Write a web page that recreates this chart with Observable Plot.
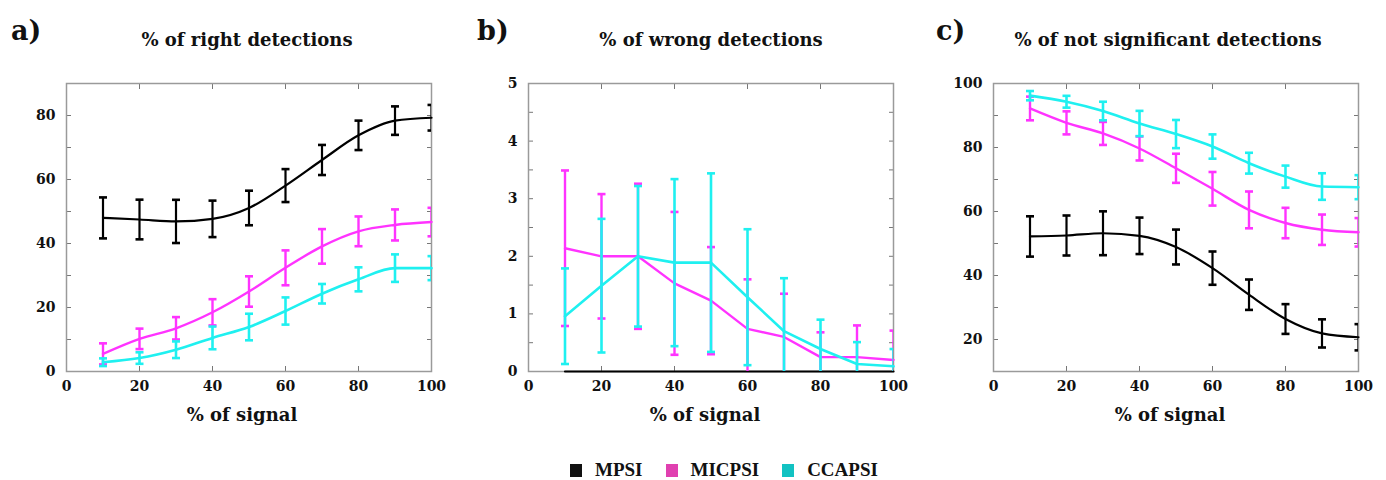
<!DOCTYPE html>
<html><head><meta charset="utf-8">
<script src="https://cdn.jsdelivr.net/npm/d3@7"></script>
<script src="https://cdn.jsdelivr.net/npm/@observablehq/plot@0.6"></script>
<style>
body{margin:0;background:#fff;width:1386px;height:480px;position:relative;overflow:hidden;font-family:"DejaVu Serif",serif;}
.abs{position:absolute;white-space:nowrap;font-weight:bold;color:#111;line-height:1;}
.c{transform:translate(-50%,-50%);}
.panel{position:absolute;top:0;}
.legend{position:absolute;top:470px;left:570px;display:flex;justify-content:flex-start;align-items:center;transform:translateY(-50%);font-family:"Liberation Serif",serif;font-weight:bold;font-size:19px;color:#111;}
.legend span.sw{display:inline-block;width:12px;height:13px;margin-right:13px;vertical-align:middle;position:relative;top:-1px;}
.legend .it{margin-right:23px;}
</style></head><body>
<script>
// ---------- data ----------
const signal = [10, 20, 30, 40, 50, 60, 70, 80, 90, 100];
const seriesNames = ["MPSI", "MICPSI", "CCAPSI"];
const lineColors = ["#000000", "#ff33ff", "#1ff0f0"];
const legendColors = ["#111111", "#e040b0", "#12c2c2"];
const panelLetters = ["a)", "b)", "c)"];
const panelTitles = ["% of right detections", "% of wrong detections", "% of not significant detections"];
const xLabel = "% of signal";
const xTicks = [0, 20, 40, 60, 80, 100];
const xMinorTicks = [20, 40, 60, 80];

// a) right detections
const rightMPSI = [48.0, 47.5, 46.9, 47.7, 51.1, 58.1, 66.1, 73.8, 78.4, 79.3];
const rightMPSIErr = [6.4, 6.2, 6.75, 5.7, 5.4, 5.15, 4.7, 4.6, 4.45, 4.0];
const rightMICPSI = [5.5, 10.2, 13.5, 18.5, 25.0, 32.4, 39.1, 43.8, 45.8, 46.7];
const rightMICPSIErr = [3.3, 3.2, 3.5, 4.1, 4.75, 5.45, 5.4, 4.65, 4.85, 4.45];
const rightCCAPSI = [2.9, 4.2, 6.8, 10.5, 13.9, 18.9, 24.3, 28.8, 32.3, 32.3];
const rightCCAPSIErr = [1.2, 1.8, 2.6, 3.55, 4.15, 4.25, 3.05, 3.75, 4.3, 3.75];
const rightYTicks = [0, 20, 40, 60, 80];
const rightYMinor = [0, 10, 20, 30, 40, 50, 60, 70, 80, 90];
const rightYDomain = [0, 90];

// b) wrong detections
const wrongMPSI = [0, 0, 0, 0, 0, 0, 0, 0, 0, 0];
const wrongMPSIErr = [0, 0, 0, 0, 0, 0, 0, 0, 0, 0];
const wrongMICPSI = [2.14, 2.0, 2.0, 1.53, 1.23, 0.74, 0.60, 0.25, 0.25, 0.20];
const wrongMICPSIErr = [1.35, 1.08, 1.26, 1.24, 0.93, 0.86, 0.75, 0.43, 0.55, 0.51];
const wrongCCAPSI = [0.96, 1.49, 2.0, 1.89, 1.89, 1.29, 0.70, 0.39, 0.13, 0.09];
const wrongCCAPSIErr = [0.83, 1.16, 1.22, 1.45, 1.55, 1.18, 0.92, 0.51, 0.38, 0.30];
const wrongYTicks = [0, 1, 2, 3, 4, 5];
const wrongYMinor = [0, 0.5, 1, 1.5, 2, 2.5, 3, 3.5, 4, 4.5, 5];
const wrongYDomain = [0, 5];

// c) not significant detections
const notSigMPSI = [52.2, 52.5, 53.2, 52.4, 48.9, 42.3, 34.0, 26.4, 21.9, 20.7];
const notSigMPSIErr = [6.3, 6.25, 6.85, 5.7, 5.45, 5.2, 4.75, 4.65, 4.4, 4.1];
const notSigMICPSI = [92.2, 87.7, 84.4, 79.7, 73.5, 67.1, 60.5, 56.4, 54.3, 53.5];
const notSigMICPSIErr = [3.7, 3.6, 3.6, 3.75, 4.55, 5.25, 5.75, 4.75, 4.75, 4.45];
const notSigCCAPSI = [96.2, 94.3, 91.4, 87.5, 84.2, 80.3, 75.1, 70.9, 67.8, 67.6];
const notSigCCAPSIErr = [1.45, 1.85, 2.9, 3.95, 4.4, 3.8, 3.25, 3.45, 4.15, 3.75];
const notSigYTicks = [20, 40, 60, 80, 100];
const notSigYMinor = [10, 20, 30, 40, 50, 60, 70, 80, 90, 100];
const notSigYDomain = [10, 100];

// ---------- build ----------
function rows(means, errs, name) {
  return signal.map((x, i) => ({x, y: means[i], lo: means[i] - errs[i], hi: means[i] + errs[i], series: name}));
}
const capSymbol = {draw(ctx, size) { const w = Math.sqrt(size / Math.PI); ctx.moveTo(-w, 0); ctx.lineTo(w, 0); }};

const panels = [
  {left: 0, ml: 66, mr: 31, series: [[rightMPSI, rightMPSIErr], [rightMICPSI, rightMICPSIErr], [rightCCAPSI, rightCCAPSIErr]],
   yTicks: rightYTicks, yMinor: rightYMinor, yDomain: rightYDomain, curve: "monotone-x",
   letterX: 11, titleX: 247, xLabelX: 242},
  {left: 462, ml: 66, mr: 31, series: [[wrongMPSI, wrongMPSIErr], [wrongMICPSI, wrongMICPSIErr], [wrongCCAPSI, wrongCCAPSIErr]],
   yTicks: wrongYTicks, yMinor: wrongYMinor, yDomain: wrongYDomain, curve: "linear",
   letterX: 477, titleX: 711, xLabelX: 705},
  {left: 924, ml: 69, mr: 28, series: [[notSigMPSI, notSigMPSIErr], [notSigMICPSI, notSigMICPSIErr], [notSigCCAPSI, notSigCCAPSIErr]],
   yTicks: notSigYTicks, yMinor: notSigYMinor, yDomain: notSigYDomain, curve: "monotone-x",
   letterX: 936, titleX: 1168, xLabelX: 1170}
];

const barWidths = [2.2, 2.4, 2.6];
const lineWidths = [2.2, 2.4, 2.6];

panels.forEach((p, pi) => {
  const marks = [
    Plot.axisX({ticks: xTicks, tickSize: 0, tickPadding: 10, label: null, tickFormat: d => d}),
    Plot.axisX({anchor: "bottom", ticks: xMinorTicks, tickSize: -5, text: null, label: null, stroke: "#777"}),
    Plot.axisX({anchor: "top", ticks: xMinorTicks, tickSize: -5, text: null, label: null, stroke: "#777"}),
    Plot.axisY({ticks: p.yTicks, tickSize: 0, tickPadding: 11, label: null, tickFormat: d => d}),
    Plot.axisY({anchor: "left", ticks: p.yMinor, tickSize: -5, text: null, label: null, stroke: "#777"}),
    Plot.axisY({anchor: "right", ticks: p.yMinor, tickSize: -5, text: null, label: null, stroke: "#777"}),
    Plot.frame({stroke: "#9a9a9a", strokeWidth: 1.5})
  ];
  p.series.forEach(([m, e], si) => {
    const d = rows(m, e, seriesNames[si]);
    const withErr = d.filter(r => r.hi > r.lo);
    marks.push(
      Plot.ruleX(withErr, {x: "x", y1: "lo", y2: "hi", stroke: "series", strokeWidth: barWidths[si], clip: true}),
      Plot.dot(withErr, {x: "x", y: "hi", symbol: capSymbol, r: 4, stroke: "series", strokeWidth: 2.6, fill: "none", clip: true}),
      Plot.dot(withErr, {x: "x", y: "lo", symbol: capSymbol, r: 4, stroke: "series", strokeWidth: 2.6, fill: "none", clip: true}),
      Plot.line(d, {x: "x", y: "y", stroke: "series", strokeWidth: lineWidths[si], curve: p.curve})
    );
  });
  const chart = Plot.plot({
    width: 462, height: 440,
    marginLeft: p.ml, marginRight: p.mr, marginTop: 83, marginBottom: 69,
    x: {domain: [0, 100]},
    y: {domain: p.yDomain},
    color: {domain: seriesNames, range: lineColors},
    style: {fontFamily: "DejaVu Serif", fontWeight: "bold", fontSize: "14px", color: "#111", background: "transparent", overflow: "visible"},
    marks
  });
  const div = document.createElement("div");
  div.className = "panel";
  div.style.left = p.left + "px";
  div.appendChild(chart);
  document.body.appendChild(div);

  const letter = document.createElement("div");
  letter.className = "abs";
  letter.style.cssText = `left:${p.letterX}px;top:17px;font-size:27px;`;
  letter.textContent = panelLetters[pi];
  document.body.appendChild(letter);

  const title = document.createElement("div");
  title.className = "abs c";
  title.style.cssText = `left:${p.titleX}px;top:40px;font-size:18px;`;
  title.textContent = panelTitles[pi];
  document.body.appendChild(title);

  const xl = document.createElement("div");
  xl.className = "abs c";
  xl.style.cssText = `left:${p.xLabelX}px;top:415px;font-size:18px;`;
  xl.textContent = xLabel;
  document.body.appendChild(xl);
});

const legend = document.createElement("div");
legend.className = "legend";
seriesNames.forEach((n, i) => {
  const it = document.createElement("span");
  it.className = "it";
  const sw = document.createElement("span");
  sw.className = "sw";
  sw.style.background = legendColors[i];
  it.appendChild(sw);
  it.appendChild(document.createTextNode(n));
  legend.appendChild(it);
});
document.body.appendChild(legend);
</script>
</body></html>
